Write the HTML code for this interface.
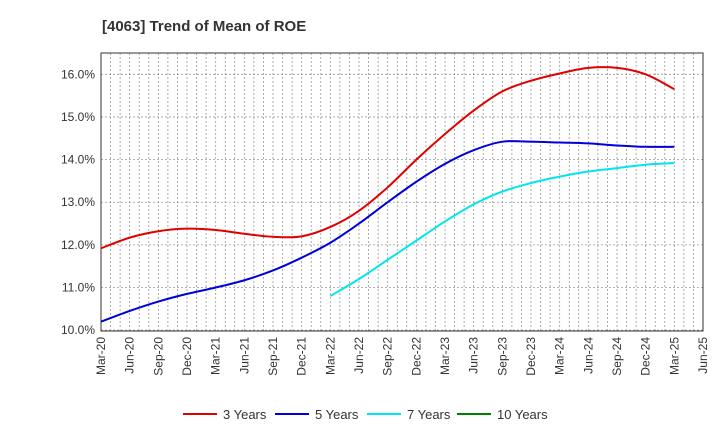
<!DOCTYPE html>
<html><head><meta charset="utf-8"><style>
body{margin:0;background:#fff;font-family:"Liberation Sans",Arial,sans-serif;}
</style></head><body>
<svg width="720" height="440" xmlns="http://www.w3.org/2000/svg">
<text x="102" y="31" font-size="15" font-weight="bold" fill="#333">[4063]  Trend of Mean of ROE</text>
<g id="grid"></g>
<rect x="101" y="53" width="602" height="278" fill="none" stroke="#333" stroke-width="1"/>
<g id="axes" font-size="12" fill="#333"></g>
<g id="series"></g>
<g id="legend" font-size="13" fill="#333"></g>
</svg>
<script>
const xLabels=["Mar-20","Jun-20","Sep-20","Dec-20","Mar-21","Jun-21","Sep-21","Dec-21","Mar-22","Jun-22","Sep-22","Dec-22","Mar-23","Jun-23","Sep-23","Dec-23","Mar-24","Jun-24","Sep-24","Dec-24","Mar-25","Jun-25"];
const yTicks=[10,11,12,13,14,15,16];
const s3=[11.92,12.17,12.32,12.38,12.35,12.26,12.19,12.2,12.42,12.8,13.35,14.0,14.6,15.15,15.6,15.85,16.02,16.15,16.15,16.0,15.65];
const s5=[10.2,10.45,10.67,10.85,11.0,11.17,11.4,11.7,12.05,12.5,13.0,13.48,13.9,14.22,14.42,14.42,14.4,14.38,14.33,14.3,14.3];
const s7=[null,null,null,null,null,null,null,null,10.8,11.2,11.65,12.1,12.55,12.95,13.25,13.45,13.6,13.72,13.8,13.88,13.92];
const s10=[];
const X0=101,X1=703,Y0=331,Y1=53,ymin=9.98,ymax=16.5;
const x=i=>X0+(X1-X0)*i/(xLabels.length-1);
const y=v=>Y0-(v-ymin)/(ymax-ymin)*(Y0-Y1);
const NS="http://www.w3.org/2000/svg";
function mk(t,a,p){const e=document.createElementNS(NS,t);for(const k in a)e.setAttribute(k,a[k]);p.appendChild(e);return e;}
const grid=document.getElementById('grid'),axes=document.getElementById('axes');
for(let m=1;m<(xLabels.length-1)*3;m++){const gx=X0+(X1-X0)*m/((xLabels.length-1)*3);
const l=mk('line',{x1:gx,x2:gx,y1:Y1,y2:Y0,stroke:'#999','stroke-dasharray':'2,2','stroke-width':0.8},grid);

}
yTicks.forEach(v=>{const gy=y(v);
const l=mk('line',{x1:X0,x2:X1,y1:gy,y2:gy,stroke:'#999','stroke-dasharray':'2,2','stroke-width':0.8},grid);


const t=mk('text',{x:X0-6,y:gy+4,'text-anchor':'end'},axes);t.textContent=v.toFixed(1)+'%';

});
xLabels.forEach((lb,i)=>{const t=mk('text',{transform:`translate(${x(i)+4},${Y0+6}) rotate(-90)`,'text-anchor':'end'},axes);t.textContent=lb;

});
function path(arr){const p=[];arr.forEach((v,i)=>{if(v!=null)p.push([x(i),y(v)]);});if(!p.length)return'';
let d=`M${p[0][0]},${p[0][1]}`;for(let i=0;i<p.length-1;i++){const a=p[Math.max(i-1,0)],b=p[i],c=p[i+1],e=p[Math.min(i+2,p.length-1)];
d+=` C${b[0]+(c[0]-a[0])/6},${b[1]+(c[1]-a[1])/6} ${c[0]-(e[0]-b[0])/6},${c[1]-(e[1]-b[1])/6} ${c[0]},${c[1]}`;}return d;}
const ser=[["3 Years",s3,"#e00000"],["5 Years",s5,"#0000dd"],["7 Years",s7,"#00e5ee"],["10 Years",s10,"#008000"]];
const sg=document.getElementById('series'),lg=document.getElementById('legend');
const lx=[183,275,367,457];
ser.forEach((s,k)=>{const d=path(s[1]);if(d){const p=mk('path',{d:d,fill:'none',stroke:s[2],'stroke-width':2},sg);

}
const g=mk('g',{},lg);


mk('line',{x1:lx[k],x2:lx[k]+34,y1:414,y2:414,stroke:s[2],'stroke-width':2},g);
const t=mk('text',{x:lx[k]+40,y:419},g);t.textContent=s[0];});
</script>
</body></html>
